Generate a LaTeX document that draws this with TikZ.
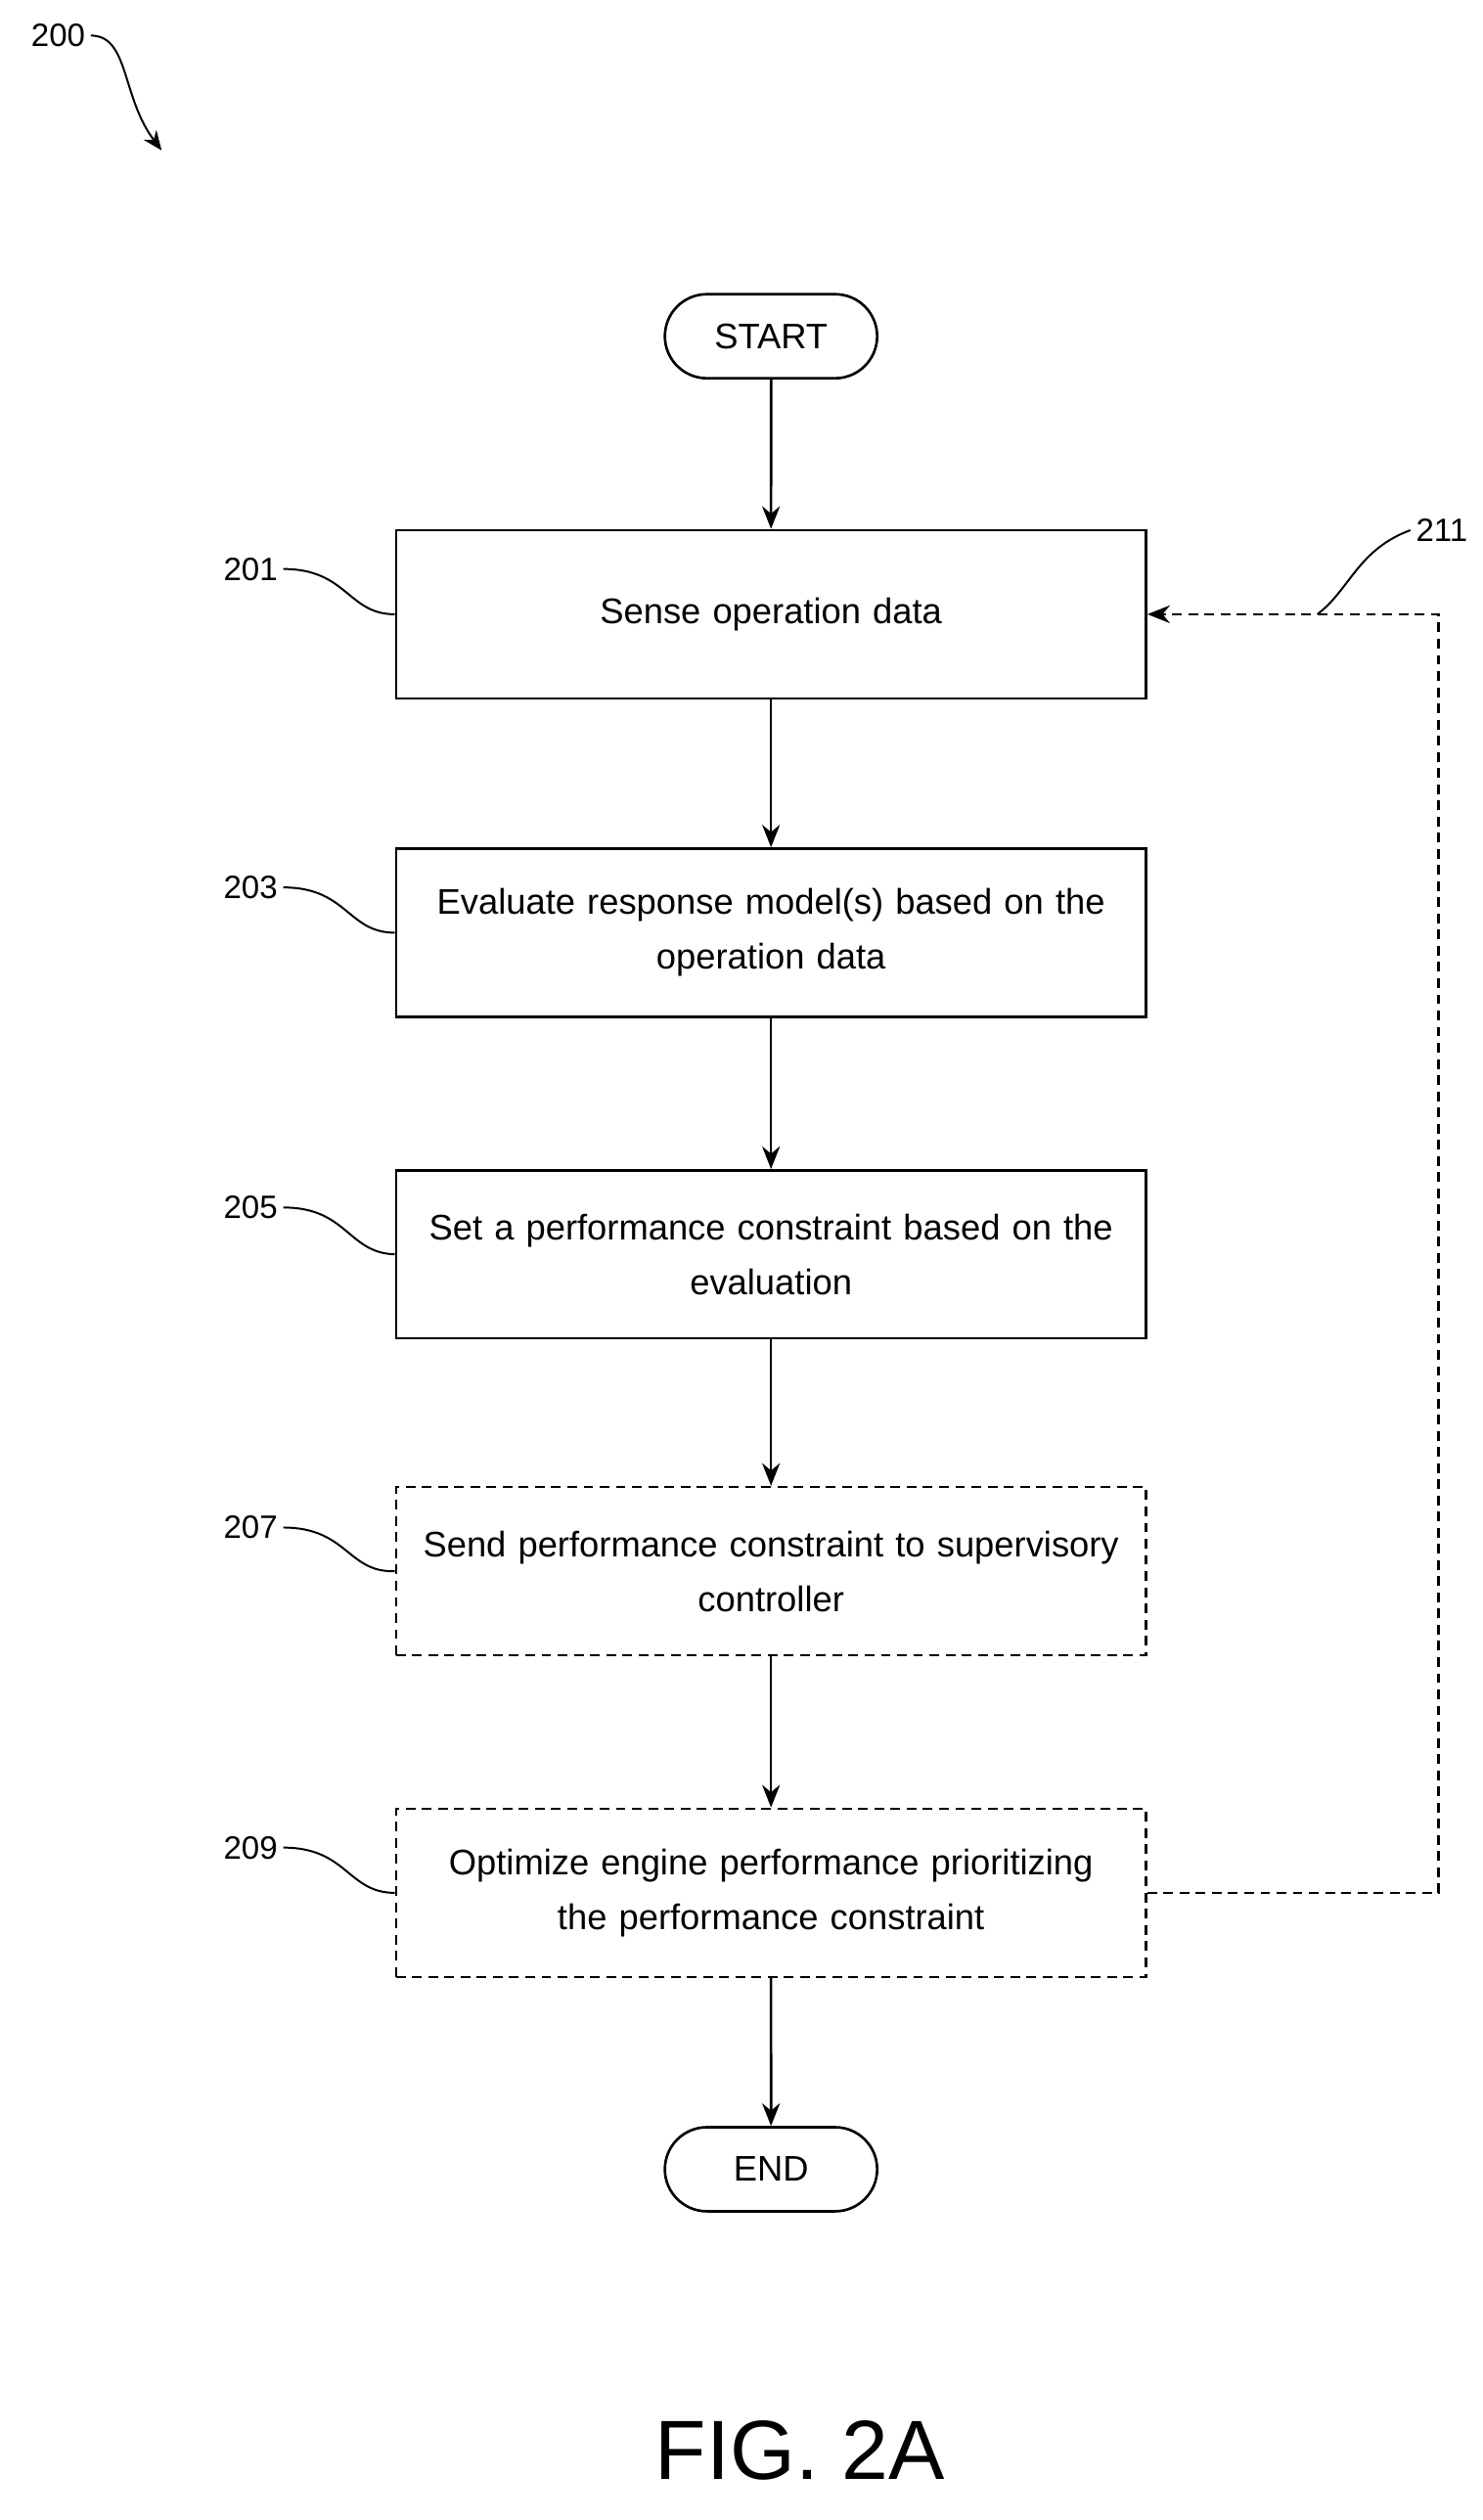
\documentclass[tikz,border=0pt]{standalone}
\usepackage{fontspec}
\setmainfont{Liberation Sans}
\usetikzlibrary{arrows.meta,shapes.misc}
\begin{document}
\begin{tikzpicture}[x=1pt,y=-1pt,
 box/.style={draw,line width=1.6pt,minimum width=464pt,minimum height=104pt,align=center,text width=450pt,font=\fontsize{22}{34}\selectfont,inner sep=0pt},
 dbox/.style={box,dashed,dash pattern=on 6pt off 4pt},
 term/.style={draw,line width=1.6pt,rounded rectangle,minimum width=138pt,minimum height=52pt,font=\fontsize{22}{26}\selectfont},
 arr/.style={line width=1.6pt,-{Stealth[length=14pt,width=11pt]}},
 lbl/.style={font=\fontsize{20}{24}\selectfont},
 sq/.style={line width=1.2pt}]
\useasboundingbox (0,0) rectangle (917,1559);
\node[term] (start) at (477,208) {START};
\node[box] (b201) at (477,380) {Sense operation data};
\node[box] (b203) at (477,577) {Evaluate response model(s) based on the\\operation data};
\node[box] (b205) at (477,776) {Set a performance constraint based on the\\evaluation};
\node[dbox] (b207) at (477,972) {Send performance constraint to supervisory\\controller};
\node[dbox] (b209) at (477,1171) {Optimize engine performance prioritizing\\the performance constraint};
\node[term] (end) at (477,1342) {END};
\draw[arr] (start) -- (b201);
\draw[arr] (b201) -- (b203);
\draw[arr] (b203) -- (b205);
\draw[arr] (b205) -- (b207);
\draw[arr] (b207) -- (b209);
\draw[arr] (b209) -- (end);
\coordinate (fr) at (890,1171);
\coordinate (fu) at (890,380);
\draw[arr,dashed,dash pattern=on 6pt off 4pt] (b209.east) -- (fr) -- (fu) -- (b201.east);
\coordinate (c211) at (815,380);
\node[lbl] (l211) at (892,328) {211};
\draw[sq] (c211) .. controls (835,365) and (840,340) .. (l211.west);
\foreach \n/\b/\y in {201/b201/352,203/b203/549,205/b205/747,207/b207/945,209/b209/1143}{
 \node[lbl] (l\n) at (155,\y) {\n};
 \draw[sq] (l\n.east) .. controls (215,\y) and (215,\y+28) .. (\b.west);
}
\node[lbl] (l200) at (36,22) {200};
\coordinate (a200) at (100,93);
\draw[sq,-{Stealth[length=12pt,width=10pt]}] (l200.east) .. controls (80,22) and (75,60) .. (a200);
\node[font=\fontsize{52}{60}\selectfont] (fig) at (495,1516) {FIG. 2A};
\end{tikzpicture}
\end{document}
